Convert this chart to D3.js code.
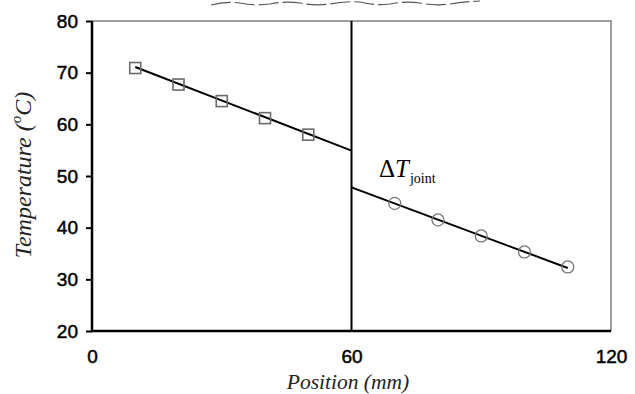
<!DOCTYPE html>
<html>
<head>
<meta charset="utf-8">
<script src="https://cdn.jsdelivr.net/npm/d3@7"></script>
<style>
body{margin:0;background:#fff;}
</style>
</head>
<body>
<div class="chart"></div>
<script>
// measured points (hot side squares, cold side circles)
var hotPos=[10,20,30,40,50];
var hotTemp=[70.9,67.7,64.5,61.2,58.0];
var coldPos=[70,80,90,100,110];
var coldTemp=[44.7,41.5,38.4,35.3,32.4];
// linear fits, end points
var hotFitPos=[10,60];
var hotFitTemp=[71.1,54.9];
var coldFitPos=[60,110];
var coldFitTemp=[47.8,32.2];
var xTicks=[0,60,120];
var yTicks=[20,30,40,50,60,70,80];
var jointPos=60;

var margin={top:21, left:92, bottom:63, right:24};
var width=635-margin.left-margin.right;
var height=394-margin.top-margin.bottom;

var svg=d3.select(".chart").append("svg").attr("width",635).attr("height",394);

// scrap of the page above the figure
svg.append("path")
   .attr("d","M211,5 Q225,1 240,3 Q255,6 270,4 Q285,1 300,3 Q315,6 330,4 Q345,1 360,2 Q375,6 390,4 Q405,1 420,3 Q435,6 450,4 Q462,2 480,1")
   .attr("fill","none").attr("stroke","#555").attr("stroke-width",1.2)
   .attr("stroke-dasharray","20,4");

var g=svg.append("g").attr("transform","translate("+margin.left+","+margin.top+")");

var x=d3.scaleLinear().domain([0,120]).range([0,width]);
var y=d3.scaleLinear().domain([20,80]).range([height,0]);

// grey top/right frame
g.append("path").attr("d","M0,0H"+width+"V"+height)
 .attr("fill","none").attr("stroke","#808080").attr("stroke-width",1.5);

//Y axis
var yAxis=g.append("g").call(d3.axisLeft(y).tickValues(yTicks).tickSize(6).tickPadding(8));
yAxis.select(".domain").remove();
yAxis.selectAll("line").attr("stroke","#000").attr("stroke-width",2);
yAxis.selectAll("text").attr("font-family","Liberation Sans, Arial").attr("font-size","19px")
  .attr("fill","#000").attr("stroke","#000").attr("stroke-width",0.5);

//X axis
var xAxis=g.append("g").attr("transform","translate(0,"+height+")")
  .call(d3.axisBottom(x).tickValues(xTicks).tickSize(0).tickPadding(19));
xAxis.select(".domain").remove();
xAxis.selectAll("text").attr("font-family","Liberation Sans, Arial").attr("font-size","19px")
  .attr("fill","#000").attr("stroke","#000").attr("stroke-width",0.5);

// black left/bottom axis lines
g.append("path").attr("d","M0,0V"+height+"H"+width)
 .attr("fill","none").attr("stroke","#000").attr("stroke-width",2.5);

// joint line
g.append("line").attr("x1",x(jointPos)).attr("x2",x(jointPos)).attr("y1",0).attr("y2",height)
 .attr("stroke","#000").attr("stroke-width",2);

// fits
var line=d3.line().x(d=>x(d[0])).y(d=>y(d[1]));
[[hotFitPos,hotFitTemp],[coldFitPos,coldFitTemp]].forEach(function(f){
  g.append("path").datum(d3.zip(f[0],f[1])).attr("d",line)
   .attr("fill","none").attr("stroke","#000").attr("stroke-width",2);
});

// squares
g.selectAll("rect.hot").data(d3.zip(hotPos,hotTemp)).enter().append("rect")
 .attr("class","hot")
 .attr("x",d=>x(d[0])-5.5).attr("y",d=>y(d[1])-5.5)
 .attr("width",11).attr("height",11)
 .attr("fill","none").attr("stroke","#6a6a6a").attr("stroke-width",1.6);

// circles
g.selectAll("circle.cold").data(d3.zip(coldPos,coldTemp)).enter().append("circle")
 .attr("class","cold")
 .attr("cx",d=>x(d[0])).attr("cy",d=>y(d[1])).attr("r",6)
 .attr("fill","none").attr("stroke","#777").attr("stroke-width",1.3);

// delta T label
var dt=svg.append("text").attr("x",379).attr("y",177)
  .attr("font-family","Liberation Serif, Times New Roman").attr("fill","#000");
dt.append("tspan").attr("font-size","25px").text("\u0394");
dt.append("tspan").attr("font-size","25px").attr("font-style","italic").text("T");
dt.append("tspan").attr("font-size","14px").attr("dy",6).attr("dx",1).text("joint");

// axis titles
svg.append("text").attr("x",348).attr("y",389).attr("text-anchor","middle")
  .attr("font-family","Liberation Serif, Times New Roman").attr("font-style","italic")
  .attr("font-size","21.5px").attr("fill","#222").text("Position (mm)");

var yl=svg.append("text").attr("transform","translate(31,175) rotate(-90)")
  .attr("text-anchor","middle")
  .attr("font-family","Liberation Serif, Times New Roman").attr("font-style","italic")
  .attr("font-size","24px").attr("fill","#222");
yl.append("tspan").text("Temperature (");
yl.append("tspan").attr("font-size","15px").attr("dy",-10).text("o");
yl.append("tspan").attr("dy",10).text("C)");
</script>
</body>
</html>
